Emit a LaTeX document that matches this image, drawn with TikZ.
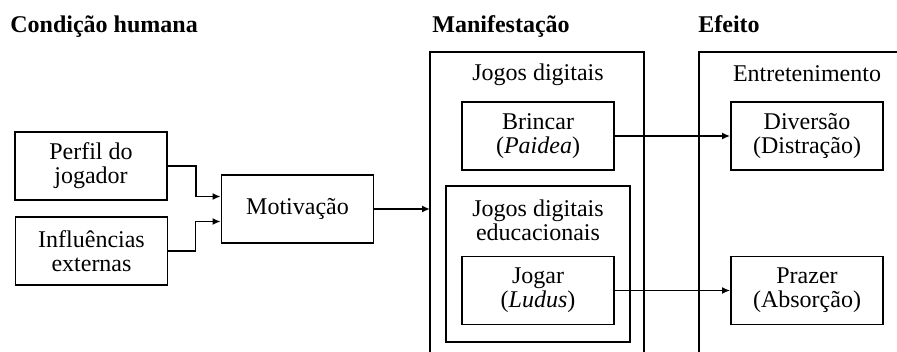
\documentclass[tikz,border=0pt]{standalone}
\usepackage{fontspec}
\setmainfont{Liberation Serif}
\usetikzlibrary{arrows.meta}

\tikzset{
  caixa/.style={draw, line width=0.9pt, minimum width=76pt, minimum height=34pt,
    inner sep=0pt, align=center, font=\fontsize{12}{12}\selectfont},
  rotulo/.style={inner sep=0pt, align=center, font=\fontsize{12}{12}\selectfont},
  titulo/.style={anchor=base west, inner sep=0pt, font=\fontsize{12}{14}\selectfont\bfseries},
  moldura/.style={line width=0.9pt},
  seta/.style={-{Latex[length=4pt,width=3.5pt]}, line width=0.9pt},
}

\begin{document}
\begin{tikzpicture}[x=0.5pt,y=-0.5pt]
                \useasboundingbox (0,0) rectangle (897,352);

                % titulos
                \node[titulo] (tcond) at (10,33) {Condição humana};
                \node[titulo] (tmanif) at (432,33) {Manifestação};
                \node[titulo] (tefeito) at (698,33) {Efeito};

                % molduras abertas
                \draw[moldura] (430,352) -- (430,52) -- (644,52) -- (644,352);
                \draw[moldura] (699,352) -- (699,52) -- (897,52);
                \coordinate (manifesq) at (430,52);

                \node[rotulo, anchor=base] (jogos) at (538,81) {Jogos digitais};
                \node[rotulo, anchor=base] (entret) at (807,82) {Entretenimento};

                % condicao humana
                \node[caixa] (perfil) at (91,166) {Perfil do\\jogador};
                \node[caixa] (influ) at (91.5,251) {Influências\\externas};
                \node[caixa] (motiv) at (297.5,209) {Motivação};

                % manifestacao
                \node[caixa] (brincar) at (538,136) {Brincar\\(\textit{Paidea})};
                \node[caixa, minimum width=92pt, minimum height=78pt] (educ) at (538,264) {};
                \node[rotulo] (teduc) at (538,220.5) {Jogos digitais\\educacionais};
                \node[caixa] (jogar) at (538,290.5) {Jogar\\(\textit{Ludus})};

                % efeito
                \node[caixa] (divers) at (807,136) {Diversão\\(Distração)};
                \node[caixa] (prazer) at (807,290.5) {Prazer\\(Absorção)};

                % setas
                \draw[seta] (perfil.east) -- ++(14pt,0) |- ([yshift=6.25pt]motiv.west);
                \draw[seta] (influ.east) -- ++(13.5pt,0) |- ([yshift=-6.25pt]motiv.west);
                \draw[seta] (motiv.east) -- (motiv.east -| manifesq);
                \draw[seta] (brincar.east) -- (divers.west);
                \draw[seta] (jogar.east) -- (prazer.west);

\end{tikzpicture}
\end{document}
